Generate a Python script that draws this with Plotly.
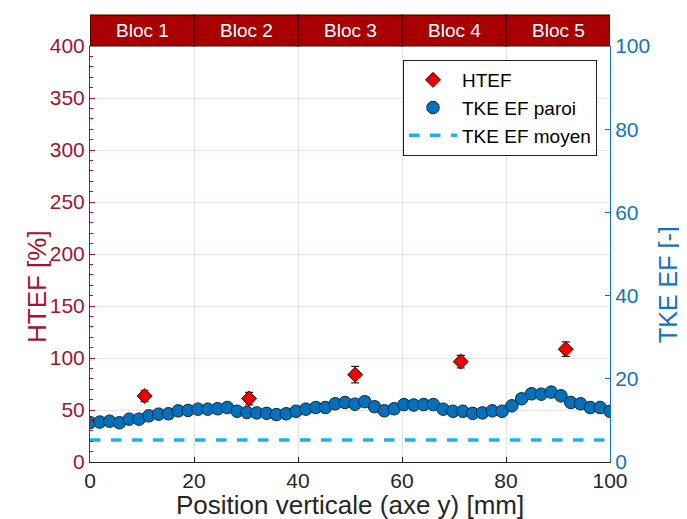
import numpy as np
import plotly.graph_objects as go

# ---------------- data ----------------
tke_x = list(np.linspace(0, 100, 54))
tke_paroi = [9.45, 9.6, 9.8, 9.45, 10.3, 10.3, 11.1, 11.5, 11.6, 12.3,
             12.4, 12.7, 12.7, 12.8, 13.1, 12.2, 11.9, 11.8, 11.7, 11.4,
             11.6, 12.2, 12.7, 13.1, 13.1, 14.0, 14.3, 13.9, 14.5, 13.3,
             12.3, 12.8, 13.8, 13.7, 13.8, 13.8, 12.7, 12.2, 12.2, 11.7,
             11.8, 12.3, 12.2, 13.5, 15.2, 16.4, 16.3, 16.8, 15.9, 14.3,
             14.0, 13.1, 13.1, 12.2]
tke_moyen = 5.3

htef_x = [10.5, 30.6, 51.0, 71.3, 91.5]
htef = [63.5, 61.0, 84.0, 96.5, 108.5]
htef_err = [5.5, 6.0, 8.0, 6.0, 7.0]

bloc_labels = ["Bloc 1", "Bloc 2", "Bloc 3", "Bloc 4", "Bloc 5"]
bloc_edges = [0, 20, 40, 60, 80, 100]

x_ticks = [0, 20, 40, 60, 80, 100]
left_ticks = [0, 50, 100, 150, 200, 250, 300, 350, 400]
right_ticks = [0, 20, 40, 60, 80, 100]

# ---------------- styles ----------------
RED_AX = "#A2142F"
BLUE_AX = "#0F74BF"
GRAY = "#262626"
FONT = "Liberation Sans, Arial, sans-serif"

# page body adds an 8px offset; compensate so the plot area lands at 90..610 x 46..462
OFF = 8
W, H = 687 - OFF, 519 - OFF
PW, PH = 520, 416

fig = go.Figure()

fig.add_trace(go.Scatter(
    x=htef_x, y=htef, mode="markers", name="HTEF",
    marker=dict(symbol="diamond", size=11.5, color="#EE0000",
                line=dict(color="#3a0000", width=1)),
    error_y=dict(type="data", array=htef_err, visible=True,
                 color="#222222", thickness=1.2, width=4),
    yaxis="y",
))

fig.add_trace(go.Scatter(
    x=tke_x, y=tke_paroi, mode="markers", name="TKE EF paroi",
    marker=dict(symbol="circle", size=12.5, color="#0072BD",
                line=dict(color="#10243a", width=1)),
    yaxis="y2",
))

fig.add_trace(go.Scatter(
    x=[0, 100], y=[tke_moyen, tke_moyen], mode="lines", name="TKE EF moyen",
    line=dict(color="#1AB2E8", width=3.5, dash="dash"),
    yaxis="y2",
))

# Header blocks
for i, lab in enumerate(bloc_labels):
    fig.add_shape(type="rect", xref="x", yref="paper",
                  x0=bloc_edges[i], x1=bloc_edges[i + 1], y0=1.0, y1=1 + 31 / PH,
                  fillcolor="#A80000", line=dict(color="#2a0000", width=1.2),
                  layer="above")
    fig.add_annotation(x=(bloc_edges[i] + bloc_edges[i + 1]) / 2, y=1 + 15.5 / PH,
                       xref="x", yref="paper", text=lab, showarrow=False,
                       font=dict(family=FONT, size=19, color="white"),
                       xanchor="center", yanchor="middle")

# Axis titles (as annotations for exact placement)
fig.add_annotation(x=-53 / PW, y=(462 - 287) / PH, xref="paper", yref="paper",
                   text="HTEF [%]", textangle=-90, showarrow=False,
                   font=dict(family=FONT, size=26, color=RED_AX),
                   xanchor="center", yanchor="middle")
fig.add_annotation(x=1 + 58 / PW, y=(462 - 285) / PH, xref="paper", yref="paper",
                   text="TKE EF [-]", textangle=-90, showarrow=False,
                   font=dict(family=FONT, size=25, color=BLUE_AX),
                   xanchor="center", yanchor="middle")
fig.add_annotation(x=0.5, y=-43 / PH, xref="paper", yref="paper",
                   text="Position verticale (axe y) [mm]", showarrow=False,
                   font=dict(family=FONT, size=26, color=GRAY),
                   xanchor="center", yanchor="middle")

fig.update_layout(
    width=W, height=H, autosize=False,
    margin=dict(l=90 - OFF, r=687 - 610, t=46 - OFF, b=519 - 462),
    paper_bgcolor="white", plot_bgcolor="white",
    font=dict(family=FONT, color=GRAY),
    showlegend=True,
    legend=dict(x=(597 - 90) / PW, y=(462 - 60) / PH, xanchor="right", yanchor="top",
                bgcolor="white", bordercolor="#222222", borderwidth=1,
                font=dict(family=FONT, size=19, color="black"),
                tracegroupgap=0, itemwidth=48),
    xaxis=dict(
        range=[0, 100], tickvals=x_ticks, showgrid=True, automargin=False,
        gridcolor="#E2E2E2", gridwidth=1, zeroline=False,
        showline=True, linecolor=GRAY, linewidth=1,
        ticks="inside", ticklen=5, tickcolor=GRAY,
        tickfont=dict(family=FONT, size=21, color=GRAY),
    ),
    yaxis=dict(
        range=[0, 400], tickvals=left_ticks, showgrid=True, automargin=False,
        gridcolor="rgba(162,20,47,0.13)", gridwidth=1, zeroline=False,
        showline=True, linecolor=RED_AX, linewidth=1,
        ticks="inside", ticklen=5, tickcolor=RED_AX,
        minor=dict(dtick=10, ticks="inside", ticklen=3, tickcolor=RED_AX, showgrid=False),
        tickfont=dict(family=FONT, size=21, color=RED_AX),
    ),
    yaxis2=dict(
        range=[0, 100], tickvals=right_ticks, overlaying="y", side="right",
        showgrid=False, zeroline=False, automargin=False,
        showline=True, linecolor=BLUE_AX, linewidth=1,
        ticks="inside", ticklen=5, tickcolor=BLUE_AX,
        tickfont=dict(family=FONT, size=21, color=BLUE_AX),
    ),
)

fig.write_html("out.html")
